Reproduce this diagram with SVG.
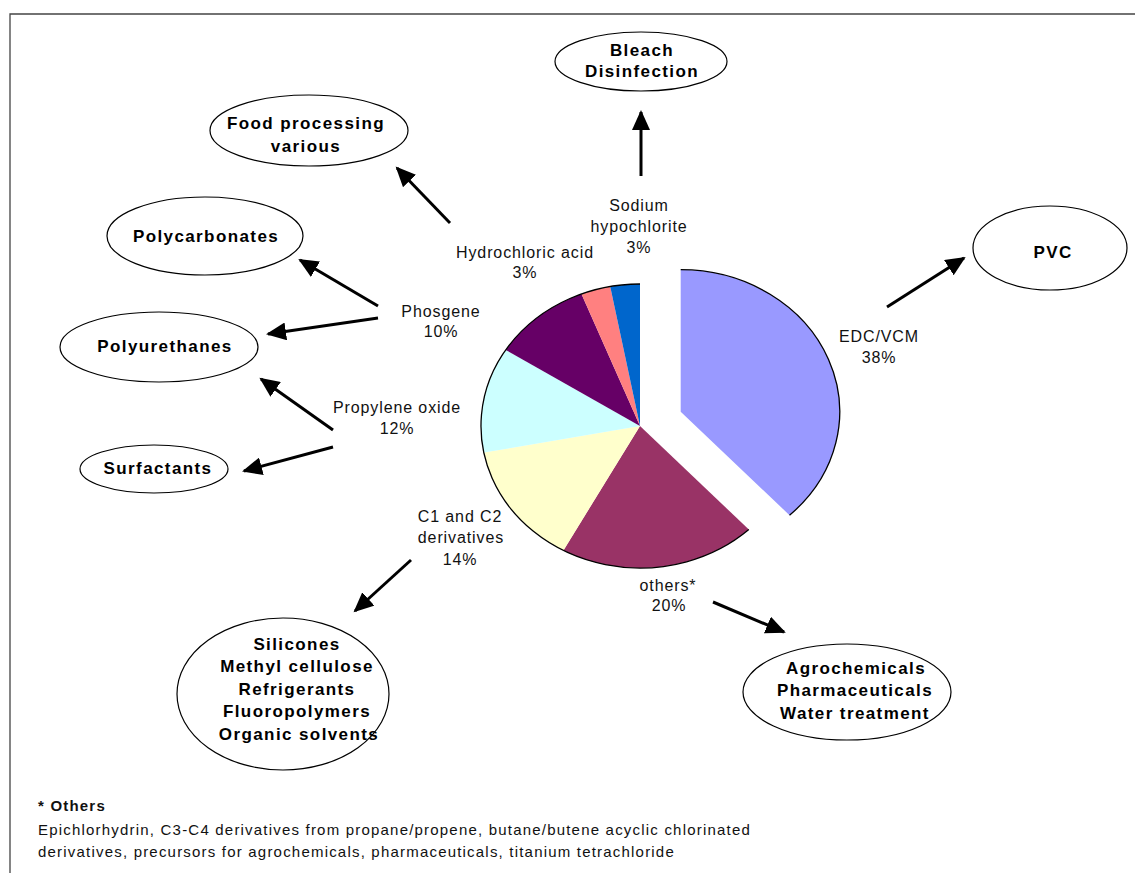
<svg xmlns="http://www.w3.org/2000/svg" width="1135" height="873" viewBox="0 0 1135 873">
  <style>
    .frame { stroke: #444; stroke-width: 1.3; fill: none; }
    .node ellipse { fill: #fff; stroke: #000; stroke-width: 1.2; }
    .node text { font-family: "Liberation Sans", Arial, sans-serif; font-weight: bold; font-size: 17px; letter-spacing: 1.4px; fill: #000; text-anchor: middle; }
    .lbl { font-family: "Liberation Sans", Arial, sans-serif; font-size: 16px; letter-spacing: 0.9px; fill: #111; text-anchor: middle; }
    .note { font-family: "Liberation Sans", Arial, sans-serif; font-size: 15px; letter-spacing: 1.2px; fill: #111; }
    .note-h { font-weight: bold; }
    .arc { fill: none; stroke: #000; stroke-width: 1.3; }
    .conn line { stroke: #000; stroke-width: 3; marker-end: url(#head); }
  </style>
  <defs>
    <marker id="head" markerUnits="userSpaceOnUse" markerWidth="22" markerHeight="18" refX="18" refY="9" orient="auto">
      <path d="M0,0 L20,9 L0,18 Z" fill="#000"/>
    </marker>
  </defs>

  <rect width="1135" height="873" fill="#fff"/>

  <!-- page frame (top and left rule) -->
  <path class="frame" d="M10,873 L10,14 L1135,14"/>

  <!-- pie chart -->
  <g id="pie">
    <path id="slice-edc" d="M680.7,411.7 L680.7,269.7 A159,142 0 0 1 789.54,515.21 Z" fill="#9999FF"/>
    <path id="slice-others" d="M640,426 L748.84,529.51 A159,142 0 0 1 563.40,550.44 Z" fill="#993366"/>
    <path id="slice-c1c2" d="M640,426 L563.40,550.44 A159,142 0 0 1 483.82,452.61 Z" fill="#FFFFCC"/>
    <path id="slice-propylene" d="M640,426 L483.82,452.61 A159,142 0 0 1 505.75,349.91 Z" fill="#CCFFFF"/>
    <path id="slice-phosgene" d="M640,426 L505.75,349.91 A159,142 0 0 1 581.47,293.97 Z" fill="#660066"/>
    <path id="slice-hcl" d="M640,426 L581.47,293.97 A159,142 0 0 1 610.21,286.51 Z" fill="#FF8080"/>
    <path id="slice-naocl" d="M640,426 L610.21,286.51 A159,142 0 0 1 640,284 Z" fill="#0066CC"/>
    <path class="arc" d="M680.7,269.7 A159,142 0 0 1 789.54,515.21"/>
    <path class="arc" d="M748.84,529.51 A159,142 0 1 1 640,284"/>
  </g>

  <!-- slice labels -->
  <g id="labels">
    <text class="lbl" x="639" y="211">Sodium</text>
    <text class="lbl" x="639" y="232">hypochlorite</text>
    <text class="lbl" x="639" y="253">3%</text>
    <text class="lbl" x="525" y="258">Hydrochloric acid</text>
    <text class="lbl" x="525" y="278">3%</text>
    <text class="lbl" x="441" y="317">Phosgene</text>
    <text class="lbl" x="441" y="337">10%</text>
    <text class="lbl" x="397" y="413">Propylene oxide</text>
    <text class="lbl" x="397" y="434">12%</text>
    <text class="lbl" x="460" y="522">C1 and C2</text>
    <text class="lbl" x="461" y="543">derivatives</text>
    <text class="lbl" x="460" y="565">14%</text>
    <text class="lbl" x="668" y="591">others*</text>
    <text class="lbl" x="669" y="611">20%</text>
    <text class="lbl" x="879" y="342">EDC/VCM</text>
    <text class="lbl" x="879" y="363">38%</text>
  </g>

  <!-- connectors -->
  <g id="connectors" class="conn">
    <line x1="641" y1="176" x2="641" y2="112"/>
    <line x1="450" y1="223" x2="397" y2="168"/>
    <line x1="378" y1="306" x2="300" y2="260"/>
    <line x1="378" y1="318" x2="268" y2="334"/>
    <line x1="333" y1="430" x2="261" y2="379"/>
    <line x1="333" y1="447" x2="244" y2="471"/>
    <line x1="411" y1="560" x2="355" y2="611"/>
    <line x1="713" y1="602" x2="784" y2="632"/>
    <line x1="887" y1="307" x2="964" y2="258"/>
  </g>

  <!-- end-use nodes -->
  <g id="node-bleach" class="node">
    <ellipse cx="641" cy="61.5" rx="86" ry="29.5"/>
    <text x="642" y="56">Bleach</text>
    <text x="642" y="77">Disinfection</text>
  </g>
  <g id="node-food" class="node">
    <ellipse cx="309" cy="130.5" rx="99" ry="35.5"/>
    <text x="306" y="129">Food processing</text>
    <text x="306" y="152">various</text>
  </g>
  <g id="node-polycarbonates" class="node">
    <ellipse cx="205" cy="236" rx="98" ry="39"/>
    <text x="206" y="242">Polycarbonates</text>
  </g>
  <g id="node-polyurethanes" class="node">
    <ellipse cx="159" cy="347" rx="99" ry="35"/>
    <text x="165" y="352">Polyurethanes</text>
  </g>
  <g id="node-surfactants" class="node">
    <ellipse cx="154" cy="469" rx="74" ry="24"/>
    <text x="158" y="474">Surfactants</text>
  </g>
  <g id="node-pvc" class="node">
    <ellipse cx="1050" cy="248" rx="77" ry="42"/>
    <text x="1053" y="258">PVC</text>
  </g>
  <g id="node-silicones" class="node">
    <ellipse cx="283" cy="694" rx="106" ry="76"/>
    <text x="297" y="650">Silicones</text>
    <text x="297" y="672">Methyl cellulose</text>
    <text x="297" y="695">Refrigerants</text>
    <text x="297" y="717">Fluoropolymers</text>
    <text x="299" y="740">Organic solvents</text>
  </g>
  <g id="node-agro" class="node">
    <ellipse cx="847" cy="692" rx="104" ry="48"/>
    <text x="856" y="674">Agrochemicals</text>
    <text x="855" y="696">Pharmaceuticals</text>
    <text x="855" y="719">Water treatment</text>
  </g>

  <!-- footnote -->
  <g id="footnote">
    <text class="note note-h" x="38" y="811">* Others</text>
    <text class="note" x="38" y="835">Epichlorhydrin, C3-C4 derivatives from propane/propene, butane/butene acyclic chlorinated</text>
    <text class="note" x="38" y="857">derivatives, precursors for agrochemicals, pharmaceuticals, titanium tetrachloride</text>
  </g>
</svg>
